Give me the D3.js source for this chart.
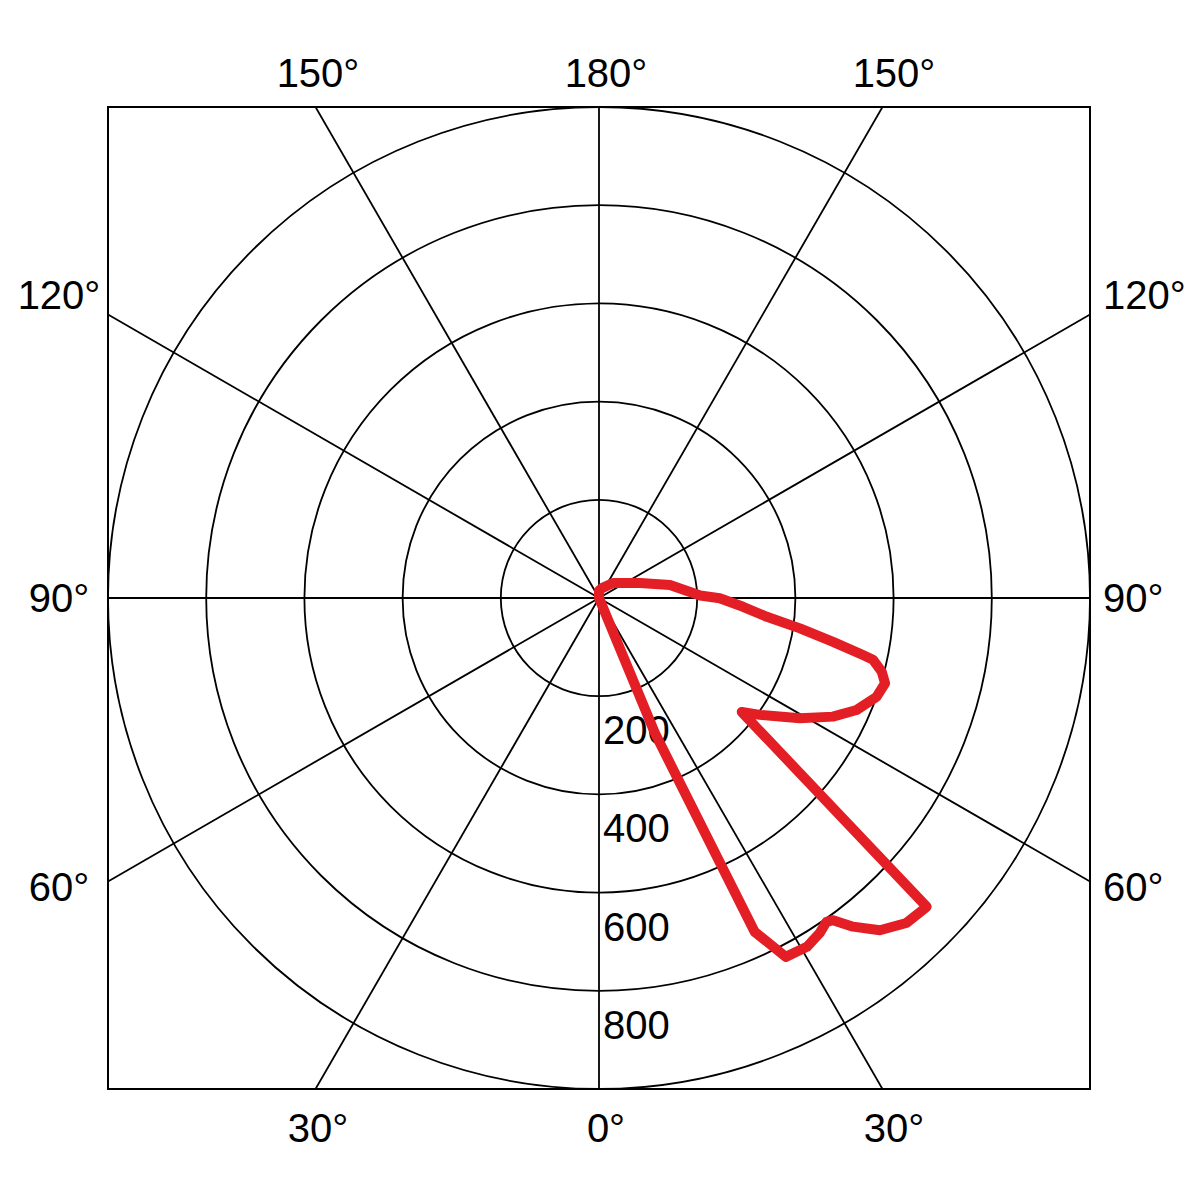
<!DOCTYPE html>
<html><head><meta charset="utf-8">
<script src="https://cdn.jsdelivr.net/npm/d3@7"></script>
<style>html,body{margin:0;padding:0;background:#fff;}</style>
</head><body>
<svg id="chart" width="1200" height="1200"></svg>
<script>
// Data: polar intensity curve (angle in degrees from downward direction, value)
const angles = [0, 20, 22.5, 25, 27.5, 30.8, 33.4, 35.1, 36.0, 37.7, 40.2, 43.4, 46.7, 51.4, 54.0, 59.1, 63.1, 66.5, 70.4, 73.4, 75.4, 77.3, 77.8, 79.4, 81.4, 83.6, 86.5, 89.9, 91.4, 100.4, 110, 137, 163, 180];
const values = [0, 0, 300, 750, 824, 827, 817, 806, 811, 846, 886, 911, 917, 372, 405, 477, 534, 572, 600, 608, 595, 572, 550, 485, 414, 344, 294, 246, 206, 147, 89, 42, 21, 15];
const ringValues = [200, 400, 600, 800, 1000];
const ringLabelValues = [200, 400, 600, 800];
const spokeAngles = [0, 30, 60, 90, 120, 150, 180, 210, 240, 270, 300, 330];
const bottomTicks = [30, 0, 30];
const topTicks = [150, 180, 150];
const sideTicks = [120, 90, 60];

(function () {
const svg = d3.select("#chart");
const cx = 599, cy = 598, R = 491;
const fLeft = cx - R, fRight = cx + R, fTop = cy - R, fBottom = cy + R;
const r = d3.scaleLinear().domain([0, 1000]).range([0, R]);
const FONT = "'Liberation Sans', Arial, sans-serif";

svg.append("rect").attr("width", 1200).attr("height", 1200).attr("fill", "#fff");

svg.append("defs").append("clipPath").attr("id", "frameClip")
  .append("rect").attr("x", fLeft).attr("y", fTop).attr("width", 2 * R).attr("height", 2 * R);

const clipG = svg.append("g").attr("clip-path", "url(#frameClip)");
const grid = clipG.append("g").attr("transform", `translate(${cx},${cy})`);
const g = svg.append("g").attr("transform", `translate(${cx},${cy})`);

// rings
grid.selectAll("circle.ring").data(ringValues).join("circle")
  .attr("class", "ring").attr("r", d => r(d))
  .attr("fill", "none").attr("stroke", "#000").attr("stroke-width", 1.8);

// spokes (0° points down, angles increase toward the right)
const toRad = d => (180 - d) * Math.PI / 180; // d3 radial convention
grid.selectAll("line.spoke").data(spokeAngles).join("line")
  .attr("class", "spoke")
  .attr("x1", 0).attr("y1", 0)
  .attr("x2", d => Math.sin(toRad(d)) * R * 2)
  .attr("y2", d => -Math.cos(toRad(d)) * R * 2)
  .attr("stroke", "#000").attr("stroke-width", 1.8);

// frame
svg.append("rect").attr("x", fLeft).attr("y", fTop).attr("width", 2 * R).attr("height", 2 * R)
  .attr("fill", "none").attr("stroke", "#000").attr("stroke-width", 2);

// radial value labels
g.selectAll("text.rlab").data(ringLabelValues).join("text")
  .attr("class", "rlab")
  .attr("x", 4).attr("y", d => r(d) + 48)
  .attr("font-family", FONT).attr("font-size", 40).attr("fill", "#000")
  .text(d => d);

// data curve
const pts = angles.map((a, i) => [toRad(a), r(values[i])]);
const line = d3.lineRadial().angle(d => d[0]).radius(d => d[1]).curve(d3.curveLinearClosed);
g.append("path").attr("d", line(pts))
  .attr("fill", "none").attr("stroke", "#e31e24").attr("stroke-width", 10)
  .attr("stroke-linejoin", "round").attr("stroke-linecap", "round");

// angle labels
const lab = svg.append("g").attr("font-family", FONT).attr("font-size", 40).attr("fill", "#000");
const side = [-1, 0, 1];
const spread = 288, xShift = 7;
bottomTicks.forEach((a, i) => {
  lab.append("text").attr("x", cx + xShift + side[i] * spread).attr("y", fBottom + 53)
    .attr("text-anchor", "middle").text(a + "°");
});
topTicks.forEach((a, i) => {
  lab.append("text").attr("x", cx + xShift + side[i] * spread).attr("y", fTop - 20)
    .attr("text-anchor", "middle").text(a + "°");
});
const sideNudge = {120: -20, 90: 0, 60: 6};
sideTicks.forEach(a => {
  const yy = cy + R / Math.tan(a * Math.PI / 180) + 14 + sideNudge[a];
  lab.append("text").attr("x", 59).attr("y", yy).attr("text-anchor", "middle").text(a + "°");
  lab.append("text").attr("x", fRight + 13).attr("y", yy).attr("text-anchor", "start").text(a + "°");
});
})();
</script>
</body></html>
